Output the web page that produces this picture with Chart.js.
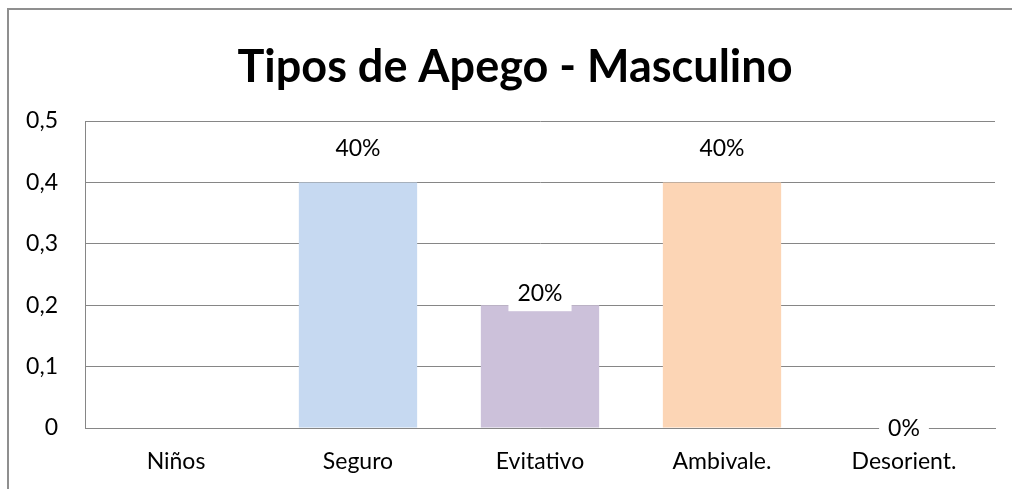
<!DOCTYPE html>
<html>
<head>
<meta charset="utf-8">
<script src="https://cdn.jsdelivr.net/npm/chart.js@4"></script>
<style>
  html, body { margin: 0; padding: 0; background: #fff; }
  #caja { position: relative; width: 1012px; height: 489px; overflow: hidden; }
  #marco {
    position: absolute; left: 7px; top: 8px; right: -4px; bottom: -4px;
    border-left: 2px solid #8f8f8f; border-top: 2px solid #8f8f8f;
    pointer-events: none;
  }
</style>
</head>
<body>
<div id="caja">
  <canvas id="grafico" width="1012" height="489"></canvas>
  <div id="marco"></div>
</div>
<script>
// Tipos de apego — grupo masculino
const titulo = 'Tipos de Apego - Masculino';
const categorias = ['Niños', 'Seguro', 'Evitativo', 'Ambivale.', 'Desorient.'];
const valores = [null, 0.4, 0.2, 0.4, 0];
const colores = ['#c6d9f1', '#c6d9f1', '#ccc1da', '#fcd5b5', '#c6d9f1'];
const ticksY = [0, 0.1, 0.2, 0.3, 0.4, 0.5];

const FUENTE = 'Lato, "Open Sans", sans-serif';
const GRIS = '#868686';

// etiquetas de porcentaje con fondo blanco (como en Excel)
const etiquetasPlugin = {
  id: 'etiquetas',
  afterDatasetsDraw(chart, args, opts) {
    const ctx = chart.ctx;
    const meta = chart.getDatasetMeta(0);
    ctx.save();
    ctx.font = '23px ' + FUENTE;
    ctx.textAlign = 'center';
    ctx.textBaseline = 'middle';
    meta.data.forEach((bar, i) => {
      const v = valores[i];
      if (v === null || v === undefined) return;
      const txt = Math.round(v * 100) + '%';
      const y = bar.y - opts.desplazamientos[i];
      const w = ctx.measureText(txt).width + 18;
      ctx.fillStyle = '#fff';
      ctx.fillRect(bar.x - w / 2, y - 19, w, 38);
      ctx.fillStyle = '#000';
      ctx.fillText(txt, bar.x, y + 1);
    });
    ctx.restore();
  }
};

// título centrado en todo el lienzo (no en el área del gráfico)
const tituloPlugin = {
  id: 'tituloCentrado',
  afterDraw(chart) {
    const ctx = chart.ctx;
    ctx.save();
    ctx.font = 'bold 45px ' + FUENTE;
    ctx.fillStyle = '#000';
    ctx.textAlign = 'center';
    ctx.textBaseline = 'middle';
    ctx.fillText(titulo, chart.width / 2 + 9, 67);
    ctx.restore();
  }
};

new Chart(document.getElementById('grafico'), {
  type: 'bar',
  data: {
    labels: categorias,
    datasets: [{
      data: valores,
      backgroundColor: colores,
      categoryPercentage: 1,
      barPercentage: 0.65
    }]
  },
  options: {
    responsive: false,
    animation: false,
    layout: { padding: { left: 0, right: 17, top: 121, bottom: 0 } },
    plugins: {
      legend: { display: false },
      tooltip: { enabled: false },
      title: { display: false },
      etiquetas: { desplazamientos: [0, 35, 13, 35, 0] }
    },
    scales: {
      x: {
        grid: { display: false, drawTicks: false },
        border: { display: true, color: GRIS, width: 1 },
        ticks: { color: '#000', font: { family: FUENTE, size: 23 }, padding: 20 },
        afterFit(scale) { scale.height = 61; }
      },
      y: {
        min: 0,
        max: 0.5,
        afterBuildTicks(scale) { scale.ticks = ticksY.map(v => ({ value: v })); },
        grid: { color: GRIS, lineWidth: 1, drawTicks: false },
        border: { display: true, color: GRIS, width: 1 },
        ticks: {
          color: '#000',
          font: { family: FUENTE, size: 23 },
          padding: 27,
          callback: v => String(v).replace('.', ',')
        },
        afterFit(scale) { scale.width = 85; }
      }
    }
  },
  plugins: [etiquetasPlugin, tituloPlugin]
});
</script>
</body>
</html>
